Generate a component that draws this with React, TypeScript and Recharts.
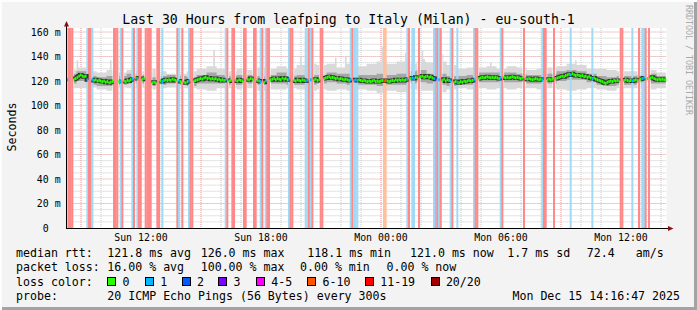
import React from 'react';
import {
  ComposedChart,
  Bar,
  Cell,
  Area,
  Line,
  Scatter,
  XAxis,
  YAxis,
  CartesianGrid
} from 'recharts';

const FONT = '"DejaVu Sans Mono", "Liberation Mono", monospace';

const TITLE = 'Last 30 Hours from leafping to Italy (Milan) - eu-south-1';

// graph ends Mon 14:16:47, 30 hours back -> Sun 08:16:47 (hours counted from Sun 00:00)
const START_HOUR = 8 + 16 / 60 + 47 / 3600;
const STEP_MIN = 5;
const SPAN_MIN = 30 * 60;
const Y_TOP = 163.27;

const TICK_HOURS = [12, 18, 24, 30, 36];
const TICK_LABELS = ['Sun 12:00', 'Sun 18:00', 'Mon 00:00', 'Mon 06:00', 'Mon 12:00'];
const Y_TICKS = [0, 20, 40, 60, 80, 100, 120, 140, 160];

const LOSS_LABELS = ['0', '1', '2', '3', '4-5', '6-10', '11-19', '20/20'];
const LOSS_COLORS = ['#26ff00', '#00b8ff', '#0059ff', '#7e00ff', '#ff00ff', '#ff5500', '#ff0000', '#a10000'];
// background stripe colours as they appear behind the graph
const LOSS_BG = ['none', '#a0daf5', '#a0bcf8', '#c3a3f8', '#f8a3f8', '#ffc0a0', '#ff9a9a', '#ff8888'];

// [first 5-min step, number of steps, pings lost out of 20]
const LOSS_RUNS = [
  [0, 1, 1], [1, 3, 20], [12, 1, 1], [13, 2, 20], [15, 1, 1], [28, 3, 20], [32, 1, 1], [33, 1, 20],
  [39, 1, 1], [40, 1, 20], [42, 1, 1], [43, 2, 20], [47, 4, 20], [54, 2, 20], [57, 1, 1], [66, 1, 20],
  [67, 1, 1], [69, 1, 20], [73, 1, 1], [74, 2, 20], [95, 1, 1], [96, 1, 20], [99, 2, 20], [106, 2, 20],
  [112, 2, 20], [116, 1, 1], [117, 1, 20], [119, 1, 1], [120, 2, 20], [133, 1, 1], [134, 2, 20], [143, 2, 1],
  [145, 1, 20], [146, 1, 1], [147, 1, 20], [152, 2, 20], [170, 1, 1], [171, 1, 20], [172, 3, 1], [190, 2, 8],
  [204, 1, 1], [205, 1, 20], [207, 2, 1], [211, 1, 20], [220, 1, 1], [221, 1, 2], [222, 1, 20], [223, 1, 1],
  [224, 1, 20], [230, 1, 1], [231, 1, 20], [234, 1, 1], [244, 1, 1], [245, 2, 20], [260, 1, 1], [261, 1, 20],
  [274, 1, 20], [285, 1, 1], [286, 2, 20], [292, 1, 20], [302, 1, 1], [315, 1, 1], [332, 2, 20], [339, 1, 1],
  [343, 1, 20], [345, 2, 1], [347, 1, 20], [349, 1, 20]
];

// median rtt (ms) per 5-min step, null = all pings lost
const MEDIAN = [
  121, null, null, null, 121.5, 122, 123, 124, 125, 124, 123.5, 124, 121, null, null, 121, 120.5, 121, 120, 120.5,
  120, 119.5, 120, 119, 119.5, 118.5, 119, 119.5, null, null, null, 119.5, 119.5, null, 120, 119.5, 120.5, 120, 121, 121.5,
  null, 122.5, 122, null, null, 121.5, 122, null, null, null, null, 118.5, 119, 118.5, null, null, 120, 119.5, 120.5, 121,
  120.5, 121, 120.5, 121.5, 121, 120.5, null, 120, 119.5, null, 119, 118.5, 119.5, 120, null, null, 120, 120.5, 121, 121.5,
  122, 121.5, 122.5, 123, 122, 122.5, 121.5, 122, 121.5, 122, 121, 121.5, 120.5, 121, 120.5, 121, null, 120, 120.5, null,
  null, 120.5, 120, 121, 120.5, 120, null, null, 121.5, 121, 122, 121.5, null, null, 120.5, 120, 119.5, null, 119, 120,
  null, null, 121, 121.5, 122, 121, 122, 121.5, 121, 122.5, 121.5, 122, 121, 121.5, null, null, 120.5, 120, 121, 120.5,
  120, 121, 120.5, 120, 120.5, null, 121, null, 121, 121.5, 120.5, 121, null, null, 122, 122.5, 123, 123.5, 122.5, 123,
  122.5, 122, 122.5, 121.5, 122, 121.5, 121, 121.5, 121, 120.5, 121, null, 120.5, 121, 120.5, 121, 120.5, 120, 120.5, 120,
  119.5, 120, 119.5, 120, 120.5, 119.5, 120, 119.5, 120, 120.5, 120, 120.5, 120, 119.5, 120, 120.5, 120, 121, 120.5, 121,
  120.5, 121, 120.5, 121, 121.5, null, 122, 122.5, 122, 123, 122.5, null, 123.5, 124, 123, 123.5, 124, 123, 123.5, 122.5,
  122, 121.5, null, 121, null, 120.5, 121.5, 120, 121, 120.5, 120, null, 119, 119.5, 119, 118.5, 119.5, 119, 120, 119.5,
  120, 120.5, 120, 120.5, 121, null, null, 122, 122.5, 123, 122.5, 123, 123.5, 123, 122.5, 123, 122.5, 123, 122.5, 122,
  122.5, null, 123, 122.5, 123, 122.5, 123, 123.5, 123, 122.5, 123, 122.5, 122, 122.5, null, 122, 121.5, 122, 121.5, 121,
  121.5, 122, 121.5, 121, 121.5, 121, null, null, 121, 121.5, 121, 121.5, null, 122, 122.5, 123, 123.5, 124, 123.5, 124.5,
  125, 125.5, 125, 126, 125, 124.5, 125, 124.5, 124, 124.5, 123.5, 124, 123, 123.5, 122.5, 122, 122.5, 121.5, 121, 120.5,
  120, 119.5, 118.5, 118.1, 119, 119.5, 120, 119.5, 120.5, 120, 120.5, 120, null, null, 120.5, 121, 120.5, 120, 120.5, 120,
  120.5, 121, 120.5, null, 121.5, 122, 122.5, null, 122, null, 122.5, 123, 122, 121.5, 121, 121.5, 121, 121.5, 121, 121
];

// smoke extent per 30-min block (ms)
const OUTER_HI = [
  129, 131, 128, 127, 129, 127, 129, 128, 130, 128, 126, 126, 128, 130, 132, 130, 128, 130, 129, 131,
  130, 132, 130, 133, 134, 133, 134, 131, 134, 132, 134, 136, 134, 136, 134, 136, 135, 136, 133, 130,
  131, 131, 132, 130, 132, 131, 129, 130, 131, 132, 134, 133, 130, 130, 129, 128, 128, 128, 129, 127
];
const OUTER_LO = [
  114, 114, 115, 113, 112, 115, 114, 115, 113, 114, 115, 114, 114, 113, 112, 114, 114, 113, 114, 112,
  113, 113, 114, 113, 112, 113, 112, 113, 112, 113, 112, 110, 112, 111, 113, 112, 112, 111, 113, 114,
  113, 114, 113, 114, 113, 114, 114, 113, 114, 113, 112, 113, 114, 113, 112, 114, 114, 114, 113, 114
];
const MID_HI = [
  126, 128, 124, 123, 124, 124, 126, 125, 123, 124, 125, 124, 123, 125, 127, 125, 124, 125, 125, 124,
  125, 127, 124, 125, 125, 125, 127, 126, 126, 125, 125, 126, 125, 126, 128, 129, 126, 126, 124, 124,
  125, 127, 127, 127, 127, 126, 125, 125, 126, 128, 129, 128, 126, 124, 123, 124, 124, 125, 126, 124
];
const MID_LO = [
  118, 120, 117, 116, 116, 117, 118, 118, 116, 117, 118, 117, 116, 118, 118, 118, 117, 117, 118, 117,
  118, 118, 117, 117, 117, 118, 119, 118, 117, 117, 117, 116, 117, 117, 118, 119, 118, 117, 116, 117,
  117, 119, 119, 119, 119, 119, 118, 118, 118, 120, 121, 121, 119, 117, 116, 117, 117, 118, 118, 118
];
// single steps where the slowest ping stands out: [step, ms]
const SPIKES = [
  [6, 137], [26, 137], [88, 145], [140, 140], [161, 139], [167, 140], [189, 148], [190, 146],
  [203, 143], [213, 145], [214, 138], [225, 142], [254, 135], [305, 137]
];

const RTT_STATS = ['121.8 ms avg', '126.0 ms max', '118.1 ms min', '121.0 ms now', '1.7 ms sd', '72.4', 'am/s'];
const LOSS_STATS = ['16.00 % avg', '100.00 % max', '0.00 % min', '0.00 % now'];
const PROBE = '20 ICMP Echo Pings (56 Bytes) every 300s';
const STAMP = 'Mon Dec 15 14:16:47 2025';

const RTT_X = [107.3, 200.7, 307.3, 410, 507.3, 586.7, 635.7];
const LOSS_X = [107.3, 200.7, 300, 386.5];
const SWATCH_X = [107.3, 145, 181.7, 218.3, 256, 307.3, 365, 430.7];

const toMin = (h: number) => (h - START_HOUR) * 60;

const lossCategory = (lost: number) => {
  if (lost <= 3) return lost;
  if (lost <= 5) return 4;
  if (lost <= 10) return 5;
  if (lost <= 19) return 6;
  return 7;
};

const buildRows = () => {
  const cats = MEDIAN.map(() => 0);
  LOSS_RUNS.forEach(([s, n, lost]) => {
    for (let k = 0; k < n; k++) cats[s + k] = lossCategory(lost);
  });
  const spike: Record<number, number> = {};
  SPIKES.forEach(([s, v]) => (spike[s] = v));
  return MEDIAN.map((med, i) => {
    const b = Math.floor(i / 6);
    const ok = med !== null;
    const hi = Math.max(OUTER_HI[b], spike[i] || 0);
    return {
      t: i * STEP_MIN + STEP_MIN / 2,
      cat: cats[i],
      loss: cats[i] > 0 ? Y_TOP : null,
      med,
      outer: ok ? [OUTER_LO[b], hi] : null,
      mid: ok ? [MID_LO[b], MID_HI[b]] : null
    };
  });
};

const hours: number[] = [];
for (let h = Math.ceil(START_HOUR); toMin(h) < SPAN_MIN; h++) hours.push(h);
const MINOR_X = hours.filter(h => h % 3 !== 0).map(toMin);
const MAJOR_X = hours.filter(h => h % 3 === 0).map(toMin);
const MINOR_Y: number[] = [];
for (let v = 5; v <= 160; v += 5) if (v % 20 !== 0) MINOR_Y.push(v);
const MAJOR_Y = Y_TICKS.filter(v => v > 0);
const TICK_MIN = TICK_HOURS.map(toMin);

const XTick = (p: any) => {
  const i = TICK_MIN.findIndex(m => Math.abs(m - p.payload.value) < 0.01);
  return (
    <text x={p.x} y={p.y + 13} textAnchor="middle" fontFamily={FONT} fontSize={9.9} fill="#000">
      {TICK_LABELS[i]}
    </text>
  );
};

const YTick = (p: any) => (
  <text x={p.x - 6} y={p.y + 3.5} textAnchor="end" fontFamily={FONT} fontSize={9.9} fill="#000">
    {p.payload.value === 0 ? '0\u00a0\u00a0' : `${p.payload.value} m`}
  </text>
);

const MedianMark = (p: any) => {
  if (p.cx == null || p.cy == null) return null;
  return <rect x={p.cx - 0.8} y={p.cy - 1.5} width={1.6} height={3} fill={LOSS_COLORS[p.payload.cat]} />;
};

const LossBar = (p: any) => (
  <rect x={p.x - 0.25} y={p.y} width={p.width + 0.5} height={p.height} fill={p.fill} />
);

export default function App() {
  const rows = React.useMemo(buildRows, []);
  const medPts = rows.filter(r => r.med !== null);

  return (
    <div
      style={{
        position: 'absolute',
        left: 0,
        top: 0,
        width: 697,
        height: 310,
        background: '#f3f3f3',
        boxShadow: 'inset 2px 2px 0 #fdfdfd, inset -3px -3px 0 #a3a3a3',
        overflow: 'hidden'
      }}
    >
      <ComposedChart
        width={697}
        height={310}
        data={rows}
        margin={{ top: 28, right: 30.4, bottom: 52, left: 6.6 }}
        style={{ position: 'absolute', left: 0, top: 0 }}
      >
        <CartesianGrid
          fill="#ffffff"
          stroke="#c8c8c8"
          strokeDasharray="1 1"
          horizontalValues={MINOR_Y}
          verticalValues={MINOR_X}
        />
        <CartesianGrid
          stroke="#f09090"
          strokeDasharray="1 1"
          horizontalValues={MAJOR_Y}
          verticalValues={MAJOR_X}
        />
        <XAxis
          type="number"
          dataKey="t"
          domain={[0, SPAN_MIN]}
          allowDataOverflow
          ticks={TICK_MIN}
          interval={0}
          tick={XTick}
          tickSize={0}
          tickMargin={0}
          axisLine={false}
          tickLine={false}
          height={30}
        />
        <YAxis
          type="number"
          domain={[0, Y_TOP]}
          allowDataOverflow
          ticks={Y_TICKS}
          interval={0}
          tick={YTick}
          tickSize={0}
          tickMargin={0}
          axisLine={false}
          tickLine={false}
          width={60}
        />
        <Bar dataKey="loss" barSize={1.667} isAnimationActive={false} shape={LossBar}>
          {rows.map((r, i) => (
            <Cell key={`loss-${i}`} fill={LOSS_BG[r.cat]} />
          ))}
        </Bar>
        <Area
          type="step"
          dataKey="outer"
          stroke="none"
          fill="#d9d9d9"
          fillOpacity={1}
          isAnimationActive={false}
          activeDot={false}
        />
        <Area
          type="step"
          dataKey="mid"
          stroke="none"
          fill="#a6a6a6"
          fillOpacity={1}
          isAnimationActive={false}
          activeDot={false}
        />
        <Line
          type="step"
          dataKey="med"
          stroke="#333333"
          strokeWidth={4}
          dot={false}
          activeDot={false}
          isAnimationActive={false}
        />
        <Scatter data={medPts} dataKey="med" shape={MedianMark} isAnimationActive={false} />
      </ComposedChart>

      <svg
        width={697}
        height={310}
        style={{ position: 'absolute', left: 0, top: 0, pointerEvents: 'none' }}
        fontFamily={FONT}
      >
        <line x1={66} y1={228.5} x2={669} y2={228.5} stroke="#000" strokeWidth={1} />
        <line x1={66.5} y1={229} x2={66.5} y2={26} stroke="#000" strokeWidth={1} />
        <polygon points="64,26.5 69,26.5 66.5,21" fill="#8b1010" />
        <polygon points="668,226 668,231 673.5,228.5" fill="#8b1010" />

        <text x={348.5} y={24} textAnchor="middle" fontSize={13.2} fill="#000">
          {TITLE}
        </text>
        <text x={15.5} y={127} textAnchor="middle" fontSize={11.6} fill="#000" transform="rotate(-90 15.5 127)">
          Seconds
        </text>
        <text x={686} y={5} fontSize={8.3} fill="#a9a9a9" transform="rotate(90 686 5)">
          RRDTOOL / TOBI OETIKER
        </text>

        <g fontSize={11.6} fill="#000">
          <text x={16} y={257}>median rtt:</text>
          {RTT_STATS.map((s, i) => (
            <text key={s} x={RTT_X[i]} y={257}>{s}</text>
          ))}
          <text x={16} y={271.3}>packet loss:</text>
          {LOSS_STATS.map((s, i) => (
            <text key={s} x={LOSS_X[i]} y={271.3}>{s}</text>
          ))}
          <text x={16} y={285.5}>loss color:</text>
          {LOSS_LABELS.map((s, i) => (
            <g key={s}>
              <rect
                x={Math.round(SWATCH_X[i]) + 0.5}
                y={277.5}
                width={8}
                height={8}
                fill={LOSS_COLORS[i]}
                stroke="#000"
                strokeWidth={1}
              />
              <text x={SWATCH_X[i] + 15.2} y={285.5}>{s}</text>
            </g>
          ))}
          <text x={16} y={299.5}>probe:</text>
          <text x={107.3} y={299.5}>{PROBE}</text>
          <text x={680} y={299.5} textAnchor="end">{STAMP}</text>
        </g>
      </svg>
    </div>
  );
}
